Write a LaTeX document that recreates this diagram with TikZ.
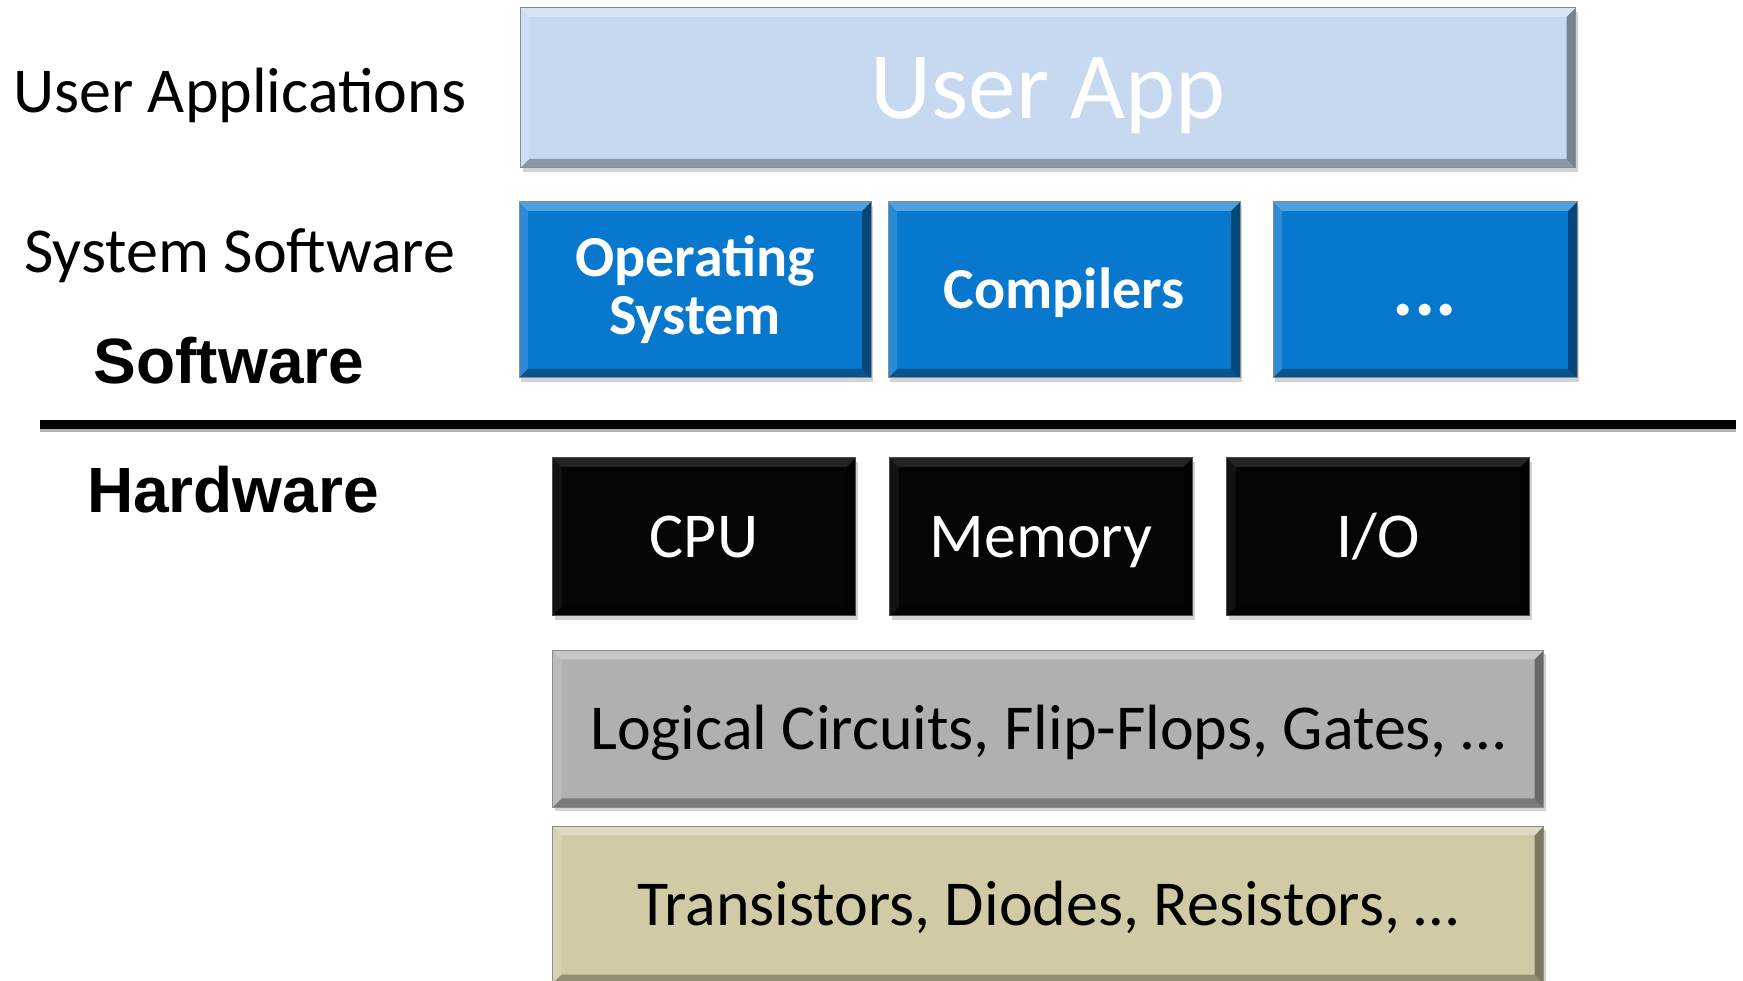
\documentclass[tikz,border=0pt]{standalone}
\usepackage{fontspec}
\setmainfont{Carlito}
\newfontfamily\arialfont{Liberation Sans}
\usetikzlibrary{positioning,shadows}

\definecolor{appblue}{RGB}{198,217,240}
\definecolor{sysblue}{RGB}{8,119,206}
\definecolor{logicgray}{RGB}{176,176,176}
\definecolor{partkhaki}{RGB}{208,203,165}

\tikzset{node distance=16pt,
  bevel/.style={path picture={
    \fill[white,opacity=#1] (path picture bounding box.north west) -- (path picture bounding box.north east)
      -- ([shift={(-9pt,-9pt)}]path picture bounding box.north east) -- ([shift={(9pt,-9pt)}]path picture bounding box.north west) -- cycle;
    \fill[white,opacity=#1/2] (path picture bounding box.north west) -- (path picture bounding box.south west)
      -- ([shift={(9pt,9pt)}]path picture bounding box.south west) -- ([shift={(9pt,-9pt)}]path picture bounding box.north west) -- cycle;
    \fill[black,opacity=.3] (path picture bounding box.south west) -- (path picture bounding box.south east)
      -- ([shift={(-9pt,9pt)}]path picture bounding box.south east) -- ([shift={(9pt,9pt)}]path picture bounding box.south west) -- cycle;
    \fill[black,opacity=.4] (path picture bounding box.north east) -- (path picture bounding box.south east)
      -- ([shift={(-9pt,9pt)}]path picture bounding box.south east) -- ([shift={(-9pt,-9pt)}]path picture bounding box.north east) -- cycle;
  }},
  captext/.style={text height=#1, text depth=0pt},
  layer/.style={rectangle, draw=black!45, line width=1pt, inner sep=0pt,
    drop shadow={shadow xshift=2pt, shadow yshift=-4pt, opacity=.35}, bevel=.3},
  appbox/.style={layer, captext=61pt, fill=appblue, text=white, minimum width=1055pt, minimum height=160pt,
    font=\fontsize{95}{100}\selectfont},
  sysbox/.style={layer, fill=sysblue, text=white, minimum width=352pt, minimum height=176pt,
    font=\fontsize{58}{64}\selectfont\bfseries},
  hwbox/.style={layer, captext=41pt, fill=black!98, draw=black!70, text=white, minimum width=303pt, minimum height=158pt,
    font=\fontsize{64}{70}\selectfont, bevel=.12},
  lowbox/.style={layer, captext=41pt, text=black, minimum width=991pt, minimum height=157pt,
    font=\fontsize{64}{70}\selectfont},
  side/.style={anchor=west, inner sep=0pt, font=\fontsize{64}{70}\selectfont},
  head/.style={inner sep=0pt, font=\arialfont\fontsize{64}{70}\selectfont\bfseries}}

\begin{document}
\begin{tikzpicture}[x=1pt,y=1pt]
  \useasboundingbox (0,0) rectangle (1743,980);

  % software side
  \node[appbox] (app) at (1048,892) {User App};
  \node[sysbox, align=center] (os) at (695,690) {Operating\\[-6pt]System};
  \node[sysbox, captext=37pt] (comp) [right=of os] {Compilers};
  \node[sysbox, captext=52pt, minimum width=304pt, font=\fontsize{80}{80}\selectfont\bfseries] (more) [right=32pt of comp] {...};

  % split between the two halves
  \draw[line width=9pt, preaction={draw=black!30, line width=9pt, transform canvas={yshift=-3pt}}]
    (40,555) coordinate (cutl) -- (1736,555) coordinate (cutr);

  % hardware side
  \node[hwbox] (cpu) at (704,443) {CPU};
  \node[hwbox] (mem) [right=33pt of cpu] {Memory};
  \node[hwbox] (io) [right=33pt of mem] {I/O};
  \node[lowbox, fill=logicgray] (logic) at (1048,251) {Logical Circuits, Flip-Flops, Gates, \dots};
  \node[lowbox, fill=partkhaki] (parts) at (1048,75) {Transistors, Diodes, Resistors, \dots};

  % row labels
  \node[side] (lapp) at (13,885) {User Applications};
  \node[side] (lsys) at (24,724) {System Software};
  \node[head] (lsw) at (229,619) {Software};
  \node[head] (lhw) at (233,490) {Hardware};
\end{tikzpicture}
\end{document}
